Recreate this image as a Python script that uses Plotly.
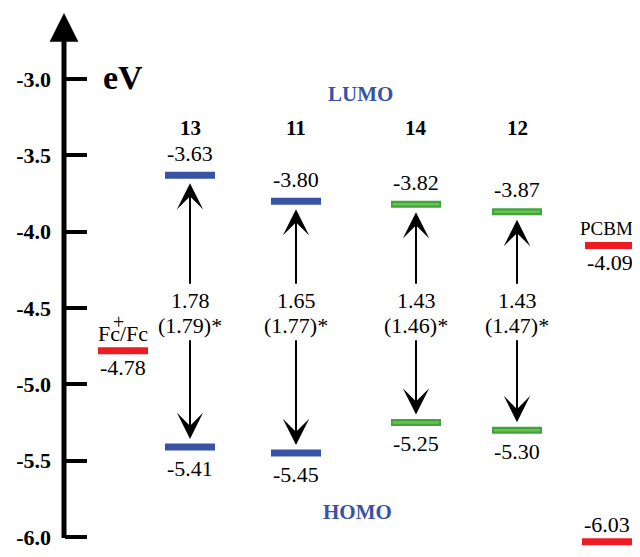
import plotly.graph_objects as go

# ---- data ----
compounds = ["13", "11", "14", "12"]
lumo = [-3.63, -3.80, -3.82, -3.87]
homo = [-5.41, -5.45, -5.25, -5.30]
gap_calc = ["1.78", "1.65", "1.43", "1.43"]
gap_opt = ["(1.79)*", "(1.77)*", "(1.46)*", "(1.47)*"]
compound_colors = ["#3953a4", "#3953a4", "#4cb848", "#4cb848"]
compound_x = [190, 296, 416, 517]

ref_names = ["Fc/Fc", "PCBM", ""]
ref_levels = [-4.78, -4.09, -6.03]
ref_x = [123, 610, 607]
ref_color = "#ed1c24"

tick_vals = [-3.0, -3.5, -4.0, -4.5, -5.0, -5.5, -6.0]
tick_text = ["-3.0", "-3.5", "-4.0", "-4.5", "-5.0", "-5.5", "-6.0"]

FONT = "Liberation Serif"
HALF = 25
GAP_Y = -4.526
TAIL = 0.175
PAGE_OFF = 8  # page body margin

fig = go.Figure()

def level(xc, v, color, green=False):
    if green:
        fig.add_trace(go.Scatter(x=[xc - HALF, xc + HALF], y=[v, v], mode="lines",
                                 line=dict(color="#3fa53c", width=7), hoverinfo="skip", showlegend=False))
        fig.add_trace(go.Scatter(x=[xc - HALF + 2, xc + HALF - 2], y=[v, v], mode="lines",
                                 line=dict(color="#6cc04f", width=2.5), hoverinfo="skip", showlegend=False))
    else:
        fig.add_trace(go.Scatter(x=[xc - HALF, xc + HALF], y=[v, v], mode="lines",
                                 line=dict(color=color, width=7), hoverinfo="skip", showlegend=False))

ann = []
def text(x, y, s, size=22, bold=False, color="black", yshift=0, xshift=0):
    ann.append(dict(x=x, y=y, xref="x", yref="y", text=s, showarrow=False,
                    font=dict(family=FONT, size=size, color=color, weight="bold" if bold else "normal"),
                    yshift=yshift, xshift=xshift, xanchor="center", yanchor="middle"))

for name, lu, ho, g1, g2, col, xc in zip(compounds, lumo, homo, gap_calc, gap_opt, compound_colors, compound_x):
    green = col == "#4cb848"
    level(xc, lu, col, green)
    level(xc, ho, col, green)
    text(xc, -3.32, name, size=21, bold=True)
    text(xc, lu, f"{lu:.2f}", yshift=22)
    text(xc, ho, f"{ho:.2f}", yshift=-21)
    text(xc, GAP_Y, g1, yshift=12)
    text(xc, GAP_Y, g2, yshift=-13)
    for tip, tail in ((lu, GAP_Y + TAIL), (ho, GAP_Y - TAIL)):
        ann.append(dict(x=xc, y=tip, xref="x", yref="y", ax=xc, ay=tail, axref="x", ayref="y",
                        text="", showarrow=True, arrowhead=3, arrowwidth=2, arrowsize=2.2,
                        arrowcolor="black", standoff=8))

for name, v, xc in zip(ref_names, ref_levels, ref_x):
    level(xc, v, ref_color)
    if name == "PCBM":
        text(xc, v, f"{v:.2f}", yshift=-17)
        text(xc, v, name, size=19, yshift=17, xshift=-4)
    elif name:
        text(xc, v, f"{v:.2f}", yshift=-17)
        text(xc, v, name, yshift=17)
    else:
        # bottom level sits at the picture edge: label kept just above it
        text(xc, v, f"{v:.2f}", yshift=17)

# plus sign of Fc+
text(118, -4.78, "+", size=20, yshift=29)

text(123, -3.0, "eV", size=34, bold=True, yshift=2)
text(360, -3.1, "LUMO", size=21, bold=True, color="#3953a4")
text(357, -5.835, "HOMO", size=21, bold=True, color="#3953a4")

# energy axis arrow
ann.append(dict(x=64, y=-2.568, xref="x", yref="y", ax=64, ay=-6.015, axref="x", ayref="y",
                text="", showarrow=True, arrowhead=2, arrowwidth=5, arrowsize=1.15,
                arrowcolor="black", standoff=0))

W, H = 640, 557
PX_PER_EV = 152.7
Y_M3 = 79  # pixel row of -3.0
y_top = -3.0 + (Y_M3 - PAGE_OFF) / PX_PER_EV
y_bot = -3.0 - (H + PAGE_OFF - Y_M3) / PX_PER_EV

fig.update_layout(
    width=W, height=H,
    margin=dict(l=0, r=0, t=0, b=0),
    paper_bgcolor="white", plot_bgcolor="white",
    showlegend=False,
    annotations=ann,
    xaxis=dict(visible=False, range=[PAGE_OFF, W + PAGE_OFF], fixedrange=True),
    yaxis=dict(range=[y_bot, y_top], anchor="free", position=(64 - PAGE_OFF) / W,
               tickvals=tick_vals, ticktext=tick_text, ticks="inside", ticklen=22,
               tickwidth=4, tickcolor="black", showline=False, showgrid=False,
               zeroline=False, ticklabelstandoff=13,
               tickfont=dict(family=FONT, size=22, color="black", weight="bold")),
)

fig.write_html("out.html")
